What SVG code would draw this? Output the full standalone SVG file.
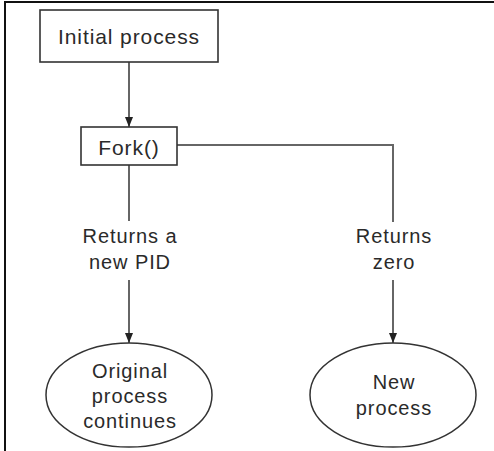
<svg xmlns="http://www.w3.org/2000/svg" width="494" height="451" viewBox="0 0 494 451">
<style>
.box{fill:#fff;stroke:#333;stroke-width:1.6}
.ell{fill:#fff;stroke:#333;stroke-width:1.5}
.ln{fill:none;stroke:#666;stroke-width:2}
.t{font-family:"Liberation Sans",Arial,sans-serif;font-size:20px;fill:#2a2a2a;text-anchor:middle;letter-spacing:0.9px}
</style>
<defs>
<marker id="ah" viewBox="0 0 10 10" refX="10" refY="5" markerWidth="10" markerHeight="10" markerUnits="userSpaceOnUse" orient="auto">
<path d="M0,1 L10,5 L0,9 Z" fill="#222"/>
</marker>
</defs>
<rect width="494" height="451" fill="#fff"/>
<g id="frame"><path d="M5,451 V2 H494" fill="none" stroke="#111" stroke-width="2"/></g>
<g id="connectors">
<path class="ln" d="M129,62 V127" marker-end="url(#ah)"/>
<path class="ln" d="M129,165 V221"/>
<path class="ln" d="M129,280 V343" marker-end="url(#ah)"/>
<path class="ln" d="M177,145 H393 V222"/>
<path class="ln" d="M393,280 V343" marker-end="url(#ah)"/>
<text class="t" x="130" y="243">Returns a</text>
<text class="t" x="130" y="269">new PID</text>
<text class="t" x="394" y="243">Returns</text>
<text class="t" x="394" y="269">zero</text>
</g>
<g id="initial">
<rect class="box" x="40" y="10" width="178" height="52"/>
<text class="t" x="129" y="44" style="font-size:21px">Initial process</text>
</g>
<g id="fork">
<rect class="box" x="81" y="127" width="96" height="38"/>
<text class="t" x="129" y="155" style="font-size:21px">Fork()</text>
</g>
<g id="original">
<ellipse class="ell" cx="129" cy="395" rx="83" ry="52"/>
<text class="t" x="130" y="378">Original</text>
<text class="t" x="130" y="403">process</text>
<text class="t" x="130" y="428">continues</text>
</g>
<g id="new">
<ellipse class="ell" cx="393" cy="395" rx="83" ry="52"/>
<text class="t" x="394" y="389">New</text>
<text class="t" x="394" y="415">process</text>
</g>
</svg>
